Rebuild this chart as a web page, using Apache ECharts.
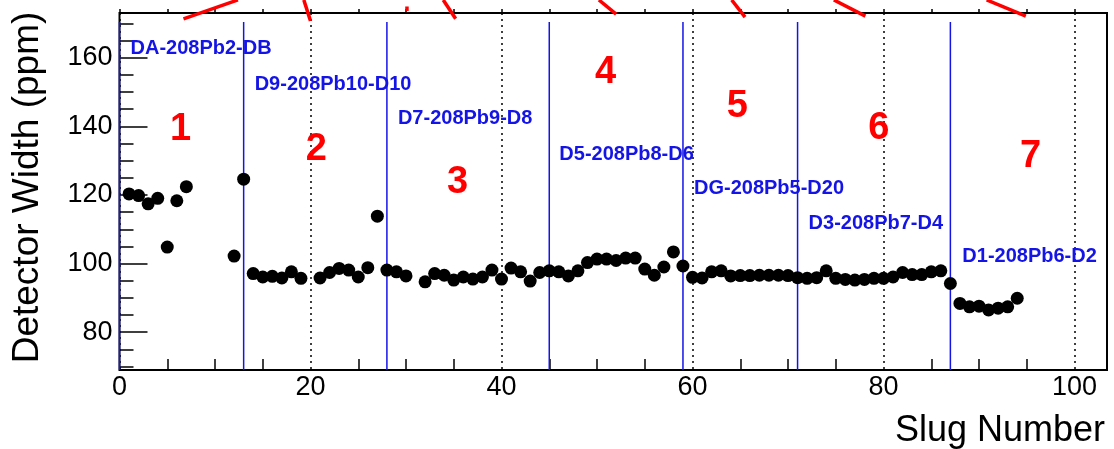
<!DOCTYPE html>
<html><head><meta charset="utf-8">
<script src="https://cdn.jsdelivr.net/npm/echarts@6/dist/echarts.min.js"></script>
<style>html,body{margin:0;padding:0;background:#fff}#c{width:1114px;height:449px}</style>
</head><body><div id="c"></div>
<script>
// ---- data ----
const slugs = [1,2,3,4,5,6,7,12,13,14,15,16,17,18,19,21,22,23,24,25,26,27,28,29,30,
  32,33,34,35,36,37,38,39,40,41,42,43,44,45,46,47,48,49,50,51,52,53,54,55,56,57,58,59,
  60,61,62,63,64,65,66,67,68,69,70,71,72,73,74,75,76,77,78,79,80,81,82,83,84,85,86,87,
  88,89,90,91,92,93,94];
const widths = [120.3,119.8,117.4,119.0,104.8,118.3,122.4,102.2,124.6,97.1,96.1,96.3,95.8,97.6,95.7,95.8,97.4,98.6,98.1,96.1,98.8,113.8,98.1,97.6,96.4,
  94.7,97.1,96.6,95.2,96.1,95.5,96.1,98.1,95.5,98.7,97.6,94.9,97.4,97.9,97.6,96.4,97.9,100.3,101.3,101.3,100.9,101.6,101.6,98.4,96.6,99.0,103.4,99.3,
  96.0,95.8,97.6,97.9,96.4,96.5,96.5,96.6,96.6,96.6,96.5,95.9,95.7,95.9,97.9,95.7,95.4,95.2,95.4,95.7,95.7,96.1,97.4,96.8,96.8,97.6,97.9,94.2,
  88.4,87.4,87.6,86.5,87.0,87.4,89.9];

const boundarySlugs = [0,13,28,45,59,71,87];
const boundaryTop = 170.4;

const targetLabels = ['DA-208Pb2-DB','D9-208Pb10-D10','D7-208Pb9-D8','D5-208Pb8-D6','DG-208Pb5-D20','D3-208Pb7-D4','D1-208Pb6-D2'];
const targetLabelX = [1.1,14.1,29.1,46.0,60.1,72.1,88.2];
const targetLabelY = [162.6,152.1,142.3,131.8,122.0,111.6,102.0];

const groupNumbers = ['1','2','3','4','5','6','7'];
const groupX = [6.4,20.6,35.4,50.9,64.7,79.5,95.4];
const groupY = [139.1,133.3,123.7,155.6,145.8,139.4,131.3];

// red pointer segments [x1,y1,x2,y2] (run past the top of the frame)
const redSegments = [
  [6.7,171.3,12.4,176.8],
  [20.0,170.7,19.3,176.8],
  [35.2,171.3,33.9,176.8],
  [52.0,172.7,50.2,176.8],
  [65.5,171.8,64.1,176.8],
  [78.1,172.1,74.8,176.8],
  [94.9,172.1,90.8,176.8],
  [30.1,173.6,30.1,174.9]
];

const xTickLabels = [0,20,40,60,80,100];
const yTickLabels = [80,100,120,140,160];
const xMinorTicks = [5,10,15,25,30,35,45,50,55,65,70,75,85,90,95];
const xTopTicks = [0,5,10,15,20,25,30,35,40,45,50,55,60,65,70,75,80,85,90,95,100];
const yMinorTicks = [70,75,85,90,95,105,110,115,125,130,135,145,150,155,165,170];

const X_MIN = 0, X_MAX = 103.4, Y_MIN = 69, Y_MAX = 173;
const FONT = "'Liberation Sans', Arial, sans-serif";
const BLUE = '#1414e6', RED = '#ff0000';

// ---- chart ----
const chart = echarts.init(document.getElementById('c'), null, {renderer: 'canvas'});

const series = [];
boundarySlugs.forEach(b => series.push({
  type: 'line', xAxisIndex: 0, yAxisIndex: 0, data: [[b, Y_MIN], [b, boundaryTop]],
  symbol: 'none', silent: true, z: 3,
  lineStyle: {color: BLUE, width: 1.5}
}));
series.push({
  type: 'scatter', xAxisIndex: 0, yAxisIndex: 0, z: 5,
  data: slugs.map((s, i) => [s, widths[i]]),
  symbol: 'circle', symbolSize: 13,
  itemStyle: {color: '#000', opacity: 1}
});
redSegments.forEach(s => series.push({
  type: 'line', xAxisIndex: 0, yAxisIndex: 0, clip: false, z: 6,
  data: [[s[0], s[1]], [s[2], s[3]]],
  symbol: 'none', silent: true,
  lineStyle: {color: RED, width: 3.5, cap: 'butt'}
}));
series.push({
  type: 'scatter', xAxisIndex: 0, yAxisIndex: 0, z: 7, silent: true,
  data: targetLabels.map((t, i) => ({name: t, value: [targetLabelX[i], targetLabelY[i]]})),
  symbolSize: 1, itemStyle: {color: 'rgba(0,0,0,0)', opacity: 1},
  label: {show: true, position: 'right', distance: 0, formatter: p => p.name,
    color: BLUE, fontFamily: FONT, fontWeight: 'bold', fontSize: 20}
});
series.push({
  type: 'scatter', xAxisIndex: 0, yAxisIndex: 0, z: 7, silent: true,
  data: groupNumbers.map((t, i) => ({name: t, value: [groupX[i], groupY[i]]})),
  symbolSize: 1, itemStyle: {color: 'rgba(0,0,0,0)', opacity: 1},
  label: {show: true, position: 'inside', formatter: p => p.name,
    color: RED, fontFamily: FONT, fontWeight: 'bold', fontSize: 38}
});

chart.setOption({
  animation: false,
  backgroundColor: '#fff',
  grid: {left: 119.5, right: 7, top: 13, bottom: 77, show: true, borderColor: '#000', borderWidth: 2, backgroundColor: 'transparent'},
  xAxis: [
    {
      type: 'value', position: 'bottom', min: X_MIN, max: X_MAX, interval: 20,
      axisLine: {show: false},
      axisTick: {show: false},
      axisLabel: {show: true, customValues: xTickLabels, fontSize: 27, color: '#000', fontFamily: FONT, margin: 4},
      splitLine: {show: true, lineStyle: {color: '#000', width: 1.5, type: [2, 4]}},
      name: 'Slug Number', nameLocation: 'end', nameGap: -2,
      nameTextStyle: {fontSize: 36, fontFamily: FONT, color: '#000', align: 'right', verticalAlign: 'top', padding: [43, 0, 0, 0]}
    },
    {
      type: 'value', position: 'top', min: X_MIN, max: X_MAX,
      axisLine: {show: false},
      axisTick: {show: true, inside: false, length: 4, customValues: xTopTicks, lineStyle: {color: '#000', width: 1.5}},
      axisLabel: {show: false},
      splitLine: {show: false}
    },
    {
      type: 'value', position: 'bottom', min: X_MIN, max: X_MAX,
      axisLine: {show: false},
      axisTick: {show: true, inside: true, length: 11, customValues: xMinorTicks, lineStyle: {color: '#000', width: 1.5}},
      axisLabel: {show: false},
      splitLine: {show: false}
    }
  ],
  yAxis: [
    {
      type: 'value', position: 'left', min: Y_MIN, max: Y_MAX,
      axisLine: {show: false},
      axisTick: {show: true, inside: true, length: 28, customValues: yTickLabels, lineStyle: {color: '#000', width: 1.5}},
      axisLabel: {show: true, customValues: yTickLabels, fontSize: 27, color: '#000', fontFamily: FONT, margin: 7},
      splitLine: {show: false},
      name: 'Detector Width (ppm)', nameLocation: 'middle', nameRotate: 90, nameGap: 73,
      nameTextStyle: {fontSize: 37, fontFamily: FONT, color: '#000', padding: [0, 0, 0, 8]}
    },
    {
      type: 'value', position: 'left', min: Y_MIN, max: Y_MAX,
      axisLine: {show: false},
      axisTick: {show: true, inside: true, length: 14, customValues: yMinorTicks, lineStyle: {color: '#000', width: 1.5}},
      axisLabel: {show: false},
      splitLine: {show: false}
    }
  ],
  series: series
});
</script>
</body></html>
